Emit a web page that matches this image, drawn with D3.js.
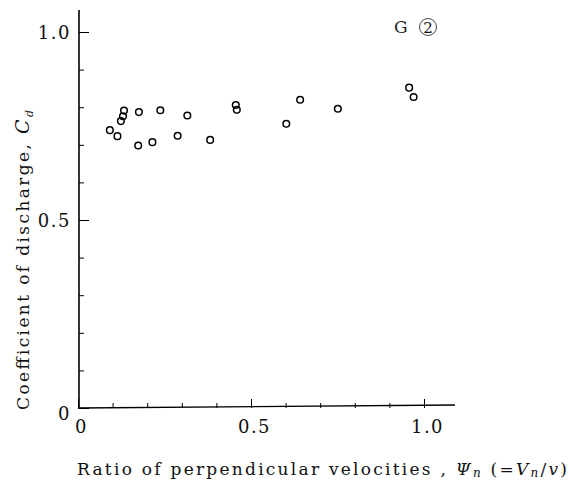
<!DOCTYPE html>
<html><head><meta charset="utf-8">
<script src="https://cdn.jsdelivr.net/npm/d3@7"></script>
<style>body{margin:0;background:#fff}svg{display:block}
svg text{font-family:"DejaVu Serif","Liberation Serif","Times New Roman",serif}</style>
</head><body>
<script>
const psi = [0.092,0.114,0.124,0.130,0.133,0.174,0.176,0.215,0.238,0.288,0.316,0.382,0.456,0.459,0.602,0.642,0.751,0.957,0.970];
const cd  = [0.739,0.723,0.763,0.776,0.791,0.698,0.787,0.707,0.792,0.724,0.778,0.713,0.806,0.793,0.756,0.820,0.796,0.852,0.827];
const xMajor = [0, 0.5, 1.0];
const yMajor = [0, 0.5, 1.0];
const xMinor = [0.1,0.2,0.3,0.4,0.6,0.7,0.8,0.9];
const yMinor = [0.1,0.2,0.3,0.4,0.6,0.7,0.8,0.9];
const fmt = d => d === 0 ? "0" : d3.format(".1f")(d);

const W = 569, H = 490;
const svg = d3.select("body").append("svg").attr("width", W).attr("height", H);
const x = d3.scaleLinear().domain([0, 1]).range([78, 424]);
const y = d3.scaleLinear().domain([0, 1]).range([408, 32]);

// axis lines
svg.append("line").attr("x1", 79).attr("x2", 79).attr("y1", 10).attr("y2", y(0) + 1)
  .attr("stroke", "#000").attr("stroke-width", 1.6);
svg.append("line").attr("x1", 78).attr("x2", 455).attr("y1", y(0)).attr("y2", y(0) - 3)
  .attr("stroke", "#000").attr("stroke-width", 1.4);

// y ticks (pointing inward)
const gy = svg.append("g").attr("transform", "translate(79,0)")
  .call(d3.axisLeft(y).tickValues(yMajor).tickSize(-10).tickFormat(fmt));
gy.select(".domain").remove();
gy.selectAll("text").attr("font-size", 18).attr("letter-spacing", 1.5)
  .attr("fill", "#111").attr("x", -8).attr("dy", d => d === 0 ? "0.62em" : "0.35em");
gy.selectAll("line").attr("stroke-width", 1);
const gym = svg.append("g").attr("transform", "translate(79,0)")
  .call(d3.axisLeft(y).tickValues(yMinor).tickSize(-5).tickFormat(""));
gym.select(".domain").remove();
gym.selectAll("line").attr("stroke-width", 1);

// x ticks (pointing inward)
const gx = svg.append("g").attr("transform", `translate(0,${y(0)})`)
  .call(d3.axisBottom(x).tickValues(xMajor).tickSize(-9).tickFormat(fmt));
gx.select(".domain").remove();
gx.selectAll("line").attr("stroke-width", 1);
gx.selectAll("text").attr("font-size", 18).attr("letter-spacing", 1.5)
  .attr("fill", "#111").attr("y", 19).attr("dy", "0.35em").attr("dx", 3);
const gxm = svg.append("g").attr("transform", `translate(0,${y(0)})`)
  .call(d3.axisBottom(x).tickValues(xMinor).tickSize(-5).tickFormat(""));
gxm.select(".domain").remove();
gxm.selectAll("line").attr("stroke-width", 1);

// points
svg.append("g").selectAll("circle").data(psi.map((v, i) => [v, cd[i]])).join("circle")
  .attr("cx", d => x(d[0])).attr("cy", d => y(d[1])).attr("r", 3.3)
  .attr("fill", "none").attr("stroke", "#000").attr("stroke-width", 1.5);

// G(2) label
svg.append("text").attr("x", 394).attr("y", 33).attr("font-size", 17)
  .attr("fill", "#222").text("G");
svg.append("circle").attr("cx", 428).attr("cy", 27).attr("r", 8.5)
  .attr("fill", "none").attr("stroke", "#333").attr("stroke-width", 0.9);
svg.append("text").attr("x", 428).attr("y", 33).attr("text-anchor", "middle")
  .attr("font-size", 15).attr("fill", "#111").text("2");

// y title
const yt = svg.append("text").attr("transform", "translate(29,410) rotate(-90)")
  .attr("font-size", 17).attr("fill", "#111")
  .attr("textLength", 300).attr("lengthAdjust", "spacing");
yt.append("tspan").text("Coefficient of discharge, ");
yt.append("tspan").attr("font-style", "italic").attr("font-size", 19).text("C");
yt.append("tspan").attr("font-style", "italic").attr("font-size", 11).attr("dy", 4).text("d");

// x title
const xt = svg.append("text").attr("x", 77).attr("y", 475)
  .attr("font-size", 17).attr("fill", "#111")
  .attr("textLength", 490).attr("lengthAdjust", "spacing");
xt.append("tspan").text("Ratio of perpendicular velocities , ");
xt.append("tspan").attr("font-style", "italic").text("Ψ");
xt.append("tspan").attr("font-style", "italic").attr("font-size", 12).attr("dy", 2).text("n");
xt.append("tspan").attr("dy", -2).text("  (=");
xt.append("tspan").attr("font-style", "italic").text("V");
xt.append("tspan").attr("font-style", "italic").attr("font-size", 12).attr("dy", 2).text("n");
xt.append("tspan").attr("dy", -2).text("/");
xt.append("tspan").attr("font-style", "italic").text("v");
xt.append("tspan").text(")");
</script>
</body></html>
